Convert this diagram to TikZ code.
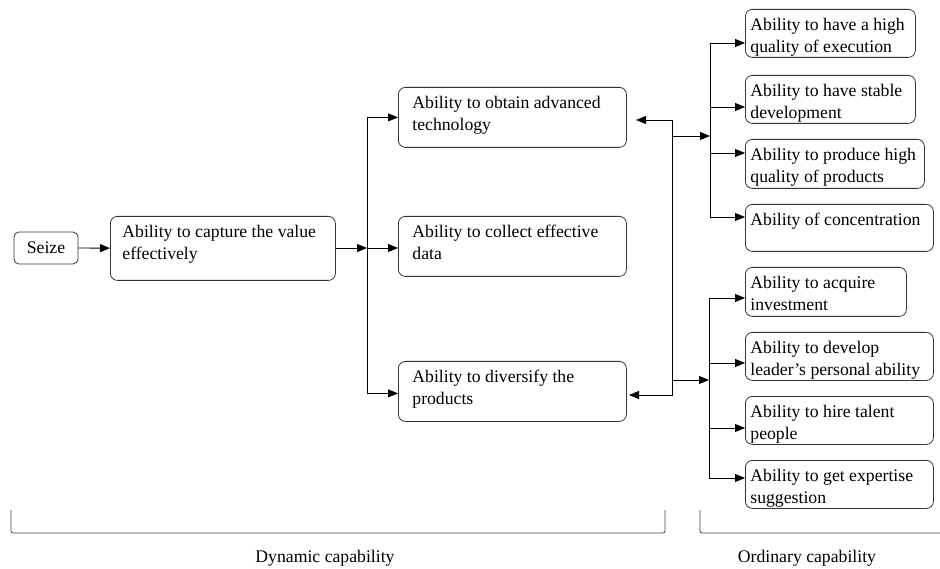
\documentclass[tikz,border=0pt]{standalone}
\usepackage{fontspec}
\setmainfont{Liberation Serif}
\usetikzlibrary{arrows.meta,calc}
\newcommand{\bt}[3]{\parbox[c][#2][t]{#1}{\raggedright\strut #3}}
\begin{document}
\begin{tikzpicture}[x=1pt,y=1pt,
  txt/.style={font=\fontsize{17.7}{22}\selectfont},
  box/.style={draw=black!80, line width=0.8pt, rounded corners=7pt, inner ysep=5.5pt, inner xsep=#1, anchor=north west, txt},
  box/.default=5pt,
  arr/.style={-{Triangle[length=10pt,width=8pt]}, line width=0.8pt},
  dbl/.style={{Triangle[length=10pt,width=8pt]}-{Triangle[length=10pt,width=8pt]}, line width=0.8pt},
  ln/.style={line width=0.8pt},
  brk/.style={draw=black!75, line width=0.8pt, rounded corners=2pt},
  lbl/.style={txt, inner sep=0pt}]
\useasboundingbox (0,0) rectangle (940,-569);

% left part
\node[box=0pt, minimum width=64pt, minimum height=32pt, inner ysep=0pt, rounded corners=5pt, anchor=center] (seize) at (46,-248) {Seize};
\node[box=12pt] (capture) at (110,-216) {\bt{201pt}{53pt}{Ability to capture the value\\effectively}};

\node[box=14pt] (obtain) at (398,-87) {\bt{200pt}{49pt}{Ability to obtain advanced\\technology}};
\node[box=14pt] (collect) at (398,-216) {\bt{200pt}{49pt}{Ability to collect effective\\data}};
\node[box=14pt] (diversify) at (398,-361) {\bt{200pt}{49pt}{Ability to diversify the\\products}};

% right boxes
\node[box] (r1) at (745,-9) {\bt{160pt}{37pt}{Ability to have a high\\quality of execution}};
\node[box] (r2) at (745,-75) {\bt{160pt}{37pt}{Ability to have stable\\development}};
\node[box] (r3) at (745,-139) {\bt{169pt}{38pt}{Ability to produce high\\quality of products}};
\node[box] (r4) at (745,-204) {\bt{178pt}{36pt}{Ability of concentration}};
\node[box] (r5) at (745,-267) {\bt{151pt}{38pt}{Ability to acquire\\investment}};
\node[box] (r6) at (745,-332) {\bt{178pt}{37pt}{Ability to develop\\leader’s personal ability}};
\node[box] (r7) at (745,-396) {\bt{178pt}{37pt}{Ability to hire talent\\people}};
\node[box] (r8) at (745,-460) {\bt{178pt}{37pt}{Ability to get expertise\\suggestion}};

% connectors left
\coordinate (j1) at (367,-248);
\draw[arr] (seize) -- (capture);
\draw[arr] (capture.east |- j1) -- (j1);
\draw[arr] (j1) |- (obtain.west);
\draw[arr] (j1) -- (collect.west |- j1);
\draw[arr] (j1) |- ($(diversify.west)+(0,-2)$);

% double connector
\coordinate (a1) at (636,-120);
\coordinate (k1) at (672,-120);
\coordinate (k2) at (672,-395);
\coordinate (a2) at (629,-395);
\draw[dbl] (a1) -- (k1) -- (k2) -- (a2);

% to the ordinary capabilities
\coordinate (m1) at (672,-136);
\coordinate (n1) at (710,-136);
\coordinate (m2) at (672,-380);
\coordinate (n2) at (709,-380);
\draw[arr] (m1) -- (n1);
\draw[arr] (m2) -- (n2);

\coordinate (u1) at (710,-43);
\coordinate (u2) at (710,-107);
\coordinate (u3) at (710,-153);
\coordinate (u4) at (710,-217);
\draw[ln] (u1) -- (u4);
\draw[arr] (u1) -- (r1.west |- u1);
\draw[arr] (u2) -- (r2.west |- u2);
\draw[arr] (u3) -- (r3.west |- u3);
\draw[arr] (u4) -- (r4.west |- u4);

\coordinate (v1) at (709,-298);
\coordinate (v2) at (709,-363);
\coordinate (v3) at (709,-428);
\coordinate (v4) at (709,-478);
\draw[ln] (v1) -- (v4);
\draw[arr] (v1) -- (r5.west |- v1);
\draw[arr] (v2) -- (r6.west |- v2);
\draw[arr] (v3) -- (r7.west |- v3);
\draw[arr] (v4) -- (r8.west |- v4);

% brackets
\draw[brk] (11,-510) -- (11,-533) -- (665,-533) -- (665,-510);
\draw[brk] (700,-510) -- (700,-533) -- (940,-533);
\node[lbl] (dyn) at (325,-558) {Dynamic capability};
\node[lbl] (ord) at (807,-558) {Ordinary capability};
\end{tikzpicture}
\end{document}
